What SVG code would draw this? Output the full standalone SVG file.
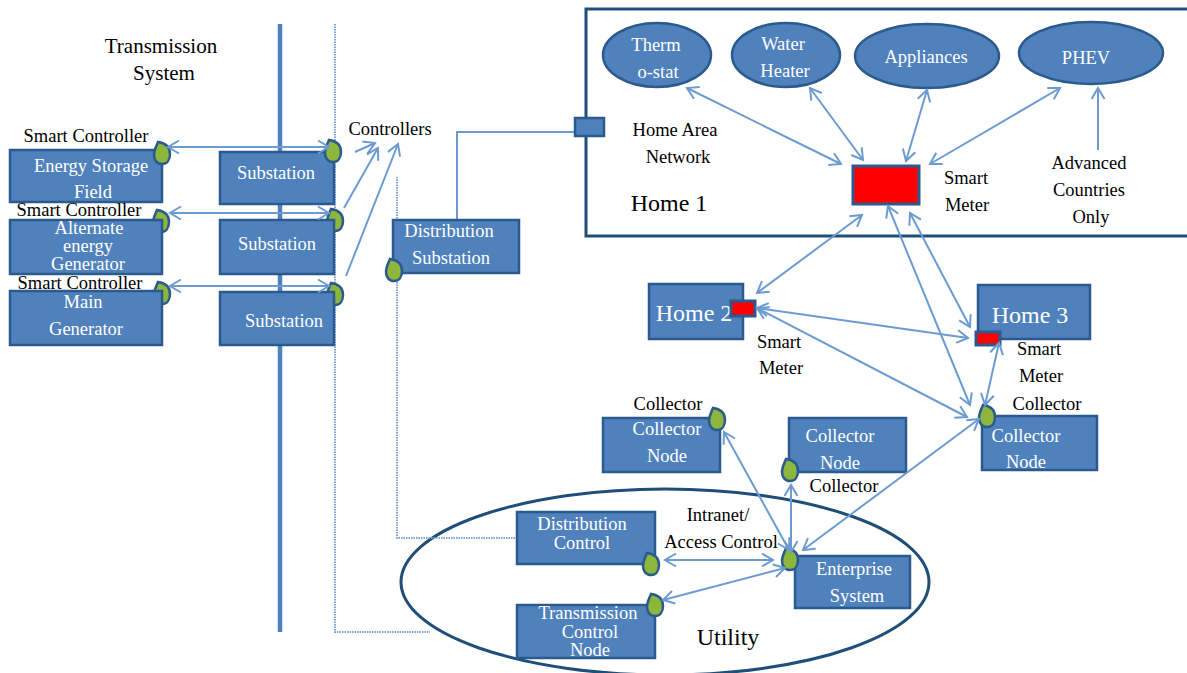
<svg xmlns="http://www.w3.org/2000/svg" width="1187" height="673" viewBox="0 0 1187 673">
<style>
text{font-family:"Liberation Serif","Times New Roman",serif;font-size:18.5px;fill:#000;text-anchor:middle}
.w{fill:#fff}
.xl{font-size:24px}
.lg{font-size:21px}
.box{fill:#4f81bd;stroke:#2a5a8e;stroke-width:2.5}
.red{fill:#f00;stroke:#2a5a8e;stroke-width:3}
.leaf{fill:#8db63c;stroke:#2a5a8e;stroke-width:2.5}
.arr{fill:none;stroke:#6c9bd2;stroke-width:2;marker-end:url(#h)}
.dbl{marker-start:url(#h)}
.dot{fill:none;stroke:#7fa6d6;stroke-width:2;stroke-dasharray:1.5 1}
</style>
<defs>
<marker id="h" viewBox="-14 -8 16 16" refX="0" refY="0" markerWidth="16" markerHeight="16" markerUnits="userSpaceOnUse" orient="auto-start-reverse">
<path d="M-11,-6.5 L0,0 L-11,6.5" fill="none" stroke="#6c9bd2" stroke-width="2"/>
</marker>
<path id="lf" d="M-4,-13 C3,-12 8,-9 8,-1 C8,5 5,9 0,9 C-5,9 -8,5 -8,0 C-8,-5 -6,-8 -4,-13Z"/>
</defs>
<g id="utility"><ellipse cx="665" cy="582" rx="264" ry="93" fill="#fff" stroke="#1f4e79" stroke-width="3"/><text class="xl" x="728" y="645">Utility</text></g>
<g id="backbone">
<line x1="280" y1="24" x2="280" y2="632" stroke="#4f81bd" stroke-width="4.5"/>
<path class="dot" d="M335,24V632H430"/>
<path class="dot" d="M397,177V538H518"/>
<path d="M457,220V132H575" fill="none" stroke="#6c9bd2" stroke-width="2"/>
</g>
<g id="home1"><rect x="586" y="9" width="603" height="227" fill="#fff" stroke="#1f4e79" stroke-width="3"/><text class="xl" x="669" y="211">Home 1</text></g>
<g id="home-port"><rect class="box" x="575" y="118" width="29" height="18"/></g>
<g id="thermostat"><ellipse class="box" cx="657" cy="55" rx="54" ry="32"/><text class="w" x="656" y="51">Therm</text><text class="w" x="658" y="78">o-stat</text></g>
<g id="water-heater"><ellipse class="box" cx="786" cy="55" rx="54" ry="32"/><text class="w" x="783" y="50">Water</text><text class="w" x="785" y="77">Heater</text></g>
<g id="appliances"><ellipse class="box" cx="927" cy="56" rx="72" ry="32"/><text class="w" x="926" y="63">Appliances</text></g>
<g id="phev"><ellipse class="box" cx="1091" cy="53" rx="72" ry="31"/><text class="w" x="1086" y="64">PHEV</text></g>
<g id="smart-meter-1"><rect class="red" x="853" y="166" width="66" height="38"/><text x="966" y="184">Smart</text><text x="967" y="211">Meter</text></g>
<g id="labels-home1"><text x="675" y="136">Home Area</text><text x="678" y="163">Network</text><text x="1089" y="169">Advanced</text><text x="1089" y="196">Countries</text><text x="1091" y="223">Only</text></g>
<g id="leaves-behind">
<use href="#lf" class="leaf" x="161" y="223"/><use href="#lf" class="leaf" x="335" y="222"/>
<use href="#lf" class="leaf" x="162" y="295"/><use href="#lf" class="leaf" x="335" y="296"/>
</g>
<g id="energy-storage"><rect class="box" x="10" y="150" width="152" height="52"/><text class="w" x="91" y="172">Energy Storage</text><text class="w" x="93" y="198">Field</text></g>
<g id="alternate"><rect class="box" x="10" y="220" width="152" height="54"/><text class="w" x="89" y="234">Alternate</text><text class="w" x="88" y="252">energy</text><text class="w" x="88" y="270">Generator</text></g>
<g id="main-gen"><rect class="box" x="10" y="291" width="152" height="54"/><text class="w" x="83" y="308">Main</text><text class="w" x="86" y="335">Generator</text></g>
<g id="sub1"><rect class="box" x="220" y="152" width="114" height="52"/><text class="w" x="276" y="179">Substation</text></g>
<g id="sub2"><rect class="box" x="220" y="220" width="114" height="54"/><text class="w" x="277" y="250">Substation</text></g>
<g id="sub3"><rect class="box" x="220" y="292" width="114" height="53"/><text class="w" x="284" y="327">Substation</text></g>
<g id="dist-sub"><rect class="box" x="393" y="220" width="126" height="53"/><text class="w" x="449" y="237">Distribution</text><text class="w" x="451" y="264">Substation</text></g>
<g id="home2"><rect class="box" x="649" y="284" width="94" height="55"/><text class="w xl" x="694" y="321">Home 2</text></g>
<g id="home3"><rect class="box" x="978" y="285" width="112" height="54"/><text class="w xl" x="1030" y="323">Home 3</text></g>
<g id="collector-1"><rect class="box" x="603" y="418" width="117" height="54"/><text class="w" x="667" y="435">Collector</text><text class="w" x="667" y="462">Node</text></g>
<g id="collector-2"><rect class="box" x="789" y="418" width="117" height="54"/><text class="w" x="840" y="442">Collector</text><text class="w" x="840" y="469">Node</text></g>
<g id="collector-3"><rect class="box" x="982" y="416" width="115" height="54"/><text class="w" x="1026" y="442">Collector</text><text class="w" x="1026" y="468">Node</text></g>
<g id="dist-control"><rect class="box" x="517" y="512" width="138" height="52"/><text class="w" x="582" y="530">Distribution</text><text class="w" x="582" y="549">Control</text></g>
<g id="trans-control"><rect class="box" x="517" y="605" width="138" height="53"/><text class="w" x="588" y="619">Transmission</text><text class="w" x="590" y="638">Control</text><text class="w" x="590" y="656">Node</text></g>
<g id="enterprise"><rect class="box" x="795" y="556" width="115" height="52"/><text class="w" x="854" y="575">Enterprise</text><text class="w" x="857" y="602">System</text></g>
<g id="leaves">
<use href="#lf" class="leaf" x="162" y="155"/><use href="#lf" class="leaf" x="333" y="153"/>
<use href="#lf" class="leaf" x="394" y="272"/><use href="#lf" class="leaf" x="717" y="421"/>
<use href="#lf" class="leaf" x="790" y="472"/><use href="#lf" class="leaf" x="987" y="418"/>
<use href="#lf" class="leaf" x="651" y="566"/><use href="#lf" class="leaf" x="655" y="607"/>
<use href="#lf" class="leaf" x="790" y="561"/>
</g>
<g id="meters"><rect class="red" x="731" y="301" width="24" height="15"/><rect class="red" x="976" y="332" width="24" height="13"/></g>
<g id="connectors">
<line class="arr dbl" x1="168" y1="147" x2="329" y2="147"/>
<line class="arr dbl" x1="170" y1="213" x2="329" y2="213"/>
<line class="arr dbl" x1="170" y1="286" x2="329" y2="286"/>
<line class="arr" x1="355" y1="152" x2="375" y2="143"/>
<line class="arr" x1="344" y1="208" x2="378" y2="148"/>
<line class="arr" x1="346" y1="276" x2="398" y2="144"/>
<line class="arr dbl" x1="687" y1="88" x2="841" y2="164"/>
<line class="arr dbl" x1="810" y1="88" x2="863" y2="160"/>
<line class="arr dbl" x1="927" y1="90" x2="906" y2="161"/>
<line class="arr dbl" x1="1060" y1="88" x2="930" y2="164"/>
<line class="arr" x1="1098" y1="150" x2="1098" y2="88"/>
<line class="arr dbl" x1="862" y1="215" x2="757" y2="293"/>
<line class="arr dbl" x1="888" y1="206" x2="970" y2="405"/>
<line class="arr dbl" x1="910" y1="213" x2="970" y2="327"/>
<line class="arr dbl" x1="757" y1="308" x2="968" y2="338"/>
<line class="arr dbl" x1="757" y1="308" x2="967" y2="417"/>
<line class="arr dbl" x1="999" y1="343" x2="985" y2="405"/>
<line class="arr dbl" x1="979" y1="419" x2="803" y2="550"/>
<line class="arr dbl" x1="724" y1="432" x2="789" y2="550"/>
<line class="arr dbl" x1="791" y1="485" x2="791" y2="552"/>
<line class="arr dbl" x1="665" y1="560" x2="773" y2="560"/>
<line class="arr dbl" x1="663" y1="600" x2="785" y2="568"/>
</g>
<g id="labels">
<text class="lg" x="161" y="53">Transmission</text><text class="lg" x="164" y="80">System</text>
<text x="86" y="142">Smart Controller</text><text x="79" y="216">Smart Controller</text><text x="80" y="289">Smart Controller</text>
<text x="390" y="135">Controllers</text>
<text x="779" y="348">Smart</text><text x="781" y="374">Meter</text>
<text x="1039" y="355">Smart</text><text x="1041" y="382">Meter</text><text x="1047" y="410">Collector</text>
<text x="668" y="410">Collector</text><text x="844" y="492">Collector</text>
<text x="718" y="521">Intranet/</text><text x="721" y="548">Access Control</text>
</g>
</svg>
